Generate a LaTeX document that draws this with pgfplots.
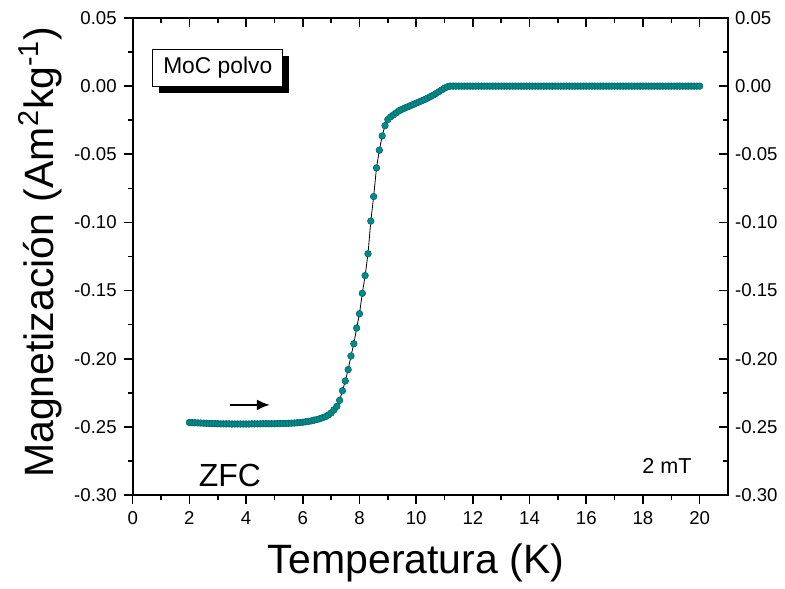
\documentclass[border=0pt]{standalone}
\usepackage{fontspec}
\setmainfont{Liberation Sans}
\usepackage{pgfplots}
\usepackage{pgfplotstable}
\pgfplotsset{compat=1.18}
\usetikzlibrary{shadows,arrows.meta}
\definecolor{moc}{RGB}{0,138,138}
\definecolor{mocdark}{RGB}{0,105,105}

\pgfplotstableread{
T M
2.0 -0.2468
2.1 -0.2469
2.2 -0.2470
2.3 -0.2471
2.4 -0.2472
2.5 -0.2473
2.6 -0.2474
2.7 -0.2475
2.8 -0.2476
2.9 -0.2476
3.0 -0.2477
3.1 -0.2478
3.2 -0.2478
3.3 -0.2478
3.4 -0.2478
3.5 -0.2479
3.6 -0.2479
3.7 -0.2479
3.8 -0.2479
3.9 -0.2479
4.0 -0.2479
4.1 -0.2479
4.2 -0.2478
4.3 -0.2478
4.4 -0.2478
4.5 -0.2478
4.6 -0.2477
4.7 -0.2477
4.8 -0.2477
4.9 -0.2477
5.0 -0.2477
5.1 -0.2476
5.2 -0.2476
5.3 -0.2475
5.4 -0.2475
5.5 -0.2474
5.6 -0.2473
5.7 -0.2472
5.8 -0.2470
5.9 -0.2468
6.0 -0.2466
6.1 -0.2463
6.2 -0.2460
6.3 -0.2456
6.4 -0.2451
6.5 -0.2446
6.6 -0.2440
6.7 -0.2433
6.8 -0.2425
6.9 -0.2413
7.0 -0.2398
7.1 -0.2375
7.2 -0.2350
7.3 -0.2305
7.4 -0.2235
7.5 -0.2163
7.6 -0.2080
7.7 -0.1980
7.8 -0.1890
7.9 -0.1775
8.0 -0.1670
8.1 -0.1520
8.2 -0.1390
8.3 -0.1230
8.4 -0.0990
8.5 -0.0810
8.6 -0.0600
8.7 -0.0470
8.8 -0.0365
8.9 -0.0290
9.0 -0.0245
9.1 -0.0225
9.2 -0.0210
9.3 -0.0195
9.4 -0.0180
9.5 -0.0170
9.6 -0.0161
9.7 -0.0152
9.8 -0.0143
9.9 -0.0134
10.0 -0.0125
10.1 -0.0116
10.2 -0.0107
10.3 -0.0098
10.4 -0.0088
10.5 -0.0077
10.6 -0.0066
10.7 -0.0054
10.8 -0.0041
10.9 -0.0028
11.0 -0.0015
11.1 -0.0005
11.2 0.0000
11.3 0.0000
11.4 0.0000
11.5 0.0000
11.6 0.0000
11.7 0.0000
11.8 0.0000
11.9 0.0000
12.0 0.0000
12.1 0.0000
12.2 0.0000
12.3 0.0000
12.4 0.0000
12.5 0.0000
12.6 0.0000
12.7 0.0000
12.8 0.0000
12.9 0.0000
13.0 0.0000
13.1 0.0000
13.2 0.0000
13.3 0.0000
13.4 0.0000
13.5 0.0000
13.6 0.0000
13.7 0.0000
13.8 0.0000
13.9 0.0000
14.0 0.0000
14.1 0.0000
14.2 0.0000
14.3 0.0000
14.4 0.0000
14.5 0.0000
14.6 0.0000
14.7 0.0000
14.8 0.0000
14.9 0.0000
15.0 0.0000
15.1 0.0000
15.2 0.0000
15.3 0.0000
15.4 0.0000
15.5 0.0000
15.6 0.0000
15.7 0.0000
15.8 0.0000
15.9 0.0000
16.0 0.0000
16.1 0.0000
16.2 0.0000
16.3 0.0000
16.4 0.0000
16.5 0.0000
16.6 0.0000
16.7 0.0000
16.8 0.0000
16.9 0.0000
17.0 0.0000
17.1 0.0000
17.2 0.0000
17.3 0.0000
17.4 0.0000
17.5 0.0000
17.6 0.0000
17.7 0.0000
17.8 0.0000
17.9 0.0000
18.0 0.0000
18.1 0.0000
18.2 0.0000
18.3 0.0000
18.4 0.0000
18.5 0.0000
18.6 0.0000
18.7 0.0000
18.8 0.0000
18.9 0.0000
19.0 0.0000
19.1 0.0000
19.2 0.0000
19.3 0.0000
19.4 0.0000
19.5 0.0000
19.6 0.0000
19.7 0.0000
19.8 0.0000
19.9 0.0000
20.0 0.0000
}\zfc

\begin{document}
\begin{tikzpicture}
\pgfplotsset{
  common/.style={
    scale only axis, width=297.65pt, height=238.5pt,
    xmin=0, xmax=21, ymin=-0.30, ymax=0.05,
    xtick={0,2,...,20}, minor xtick={1,3,...,19},
    ytick={-0.30,-0.25,-0.20,-0.15,-0.10,-0.05,0.00,0.05},
    minor ytick={-0.275,-0.225,-0.175,-0.125,-0.075,-0.025,0.025},
    major tick length=4.5pt, minor tick length=2.3pt,
    every tick/.style={black, line width=0.8pt},
    axis line style={line width=0.8pt},
    tick label style={font=\fontsize{9.3}{11}\selectfont},
    xticklabel style={text height=6.7pt, text depth=0pt},
    /pgf/number format/assume math mode=true,
    yticklabel style={/pgf/number format/.cd, fixed, fixed zerofill, precision=2},
  }
}
\begin{axis}[common, name=main,
  xtick pos=bottom, ytick pos=left, tick align=outside,
  clip=false,
  xlabel={Temperatura (K)},
  ylabel={Magnetización (Am\textsuperscript{2}kg\textsuperscript{-1})},
  every axis x label/.style={at={(axis description cs:0.476,-0.1426)}, anchor=center, font=\fontsize{20.5}{24}\selectfont},
  every axis y label/.style={at={(axis description cs:-0.1557,0.509)}, rotate=90, anchor=center, font=\fontsize{20.5}{24}\selectfont},
]
\addplot[black, line width=0.4pt, mark=*, mark size=1.65pt, mark options={fill=moc, draw=mocdark, line width=0.3pt}] table[x=T, y=M] {\zfc};
\draw[line width=1.2pt, -{Latex[length=6.5pt,width=5.5pt]}] (axis cs:3.43,-0.2339) -- (axis cs:4.84,-0.2339);
\node[font=\fontsize{16}{19}\selectfont] at (axis cs:3.43,-0.286) {ZFC};
\node[font=\fontsize{10.8}{13}\selectfont] at (axis cs:18.85,-0.2787) {2 mT};
\node[draw, line width=0.5pt, fill=white, minimum width=65pt, minimum height=18.35pt, inner sep=0pt,
      font=\fontsize{11.4}{13.7}\selectfont,
      drop shadow={shadow xshift=3.3pt, shadow yshift=-3.5pt, fill=black, opacity=1}]
      at (axis cs:3.0,0.01354) {MoC polvo};
\end{axis}
\begin{axis}[common,
  xtick pos=top, ytick pos=right, tick align=inside,
  xticklabels={}, yticklabel pos=right,
]
\end{axis}
\pgfresetboundingbox
\path (main.south west) ++(-66.35pt,-46.5pt) rectangle ++(392.5pt,294pt);
\end{tikzpicture}
\end{document}
